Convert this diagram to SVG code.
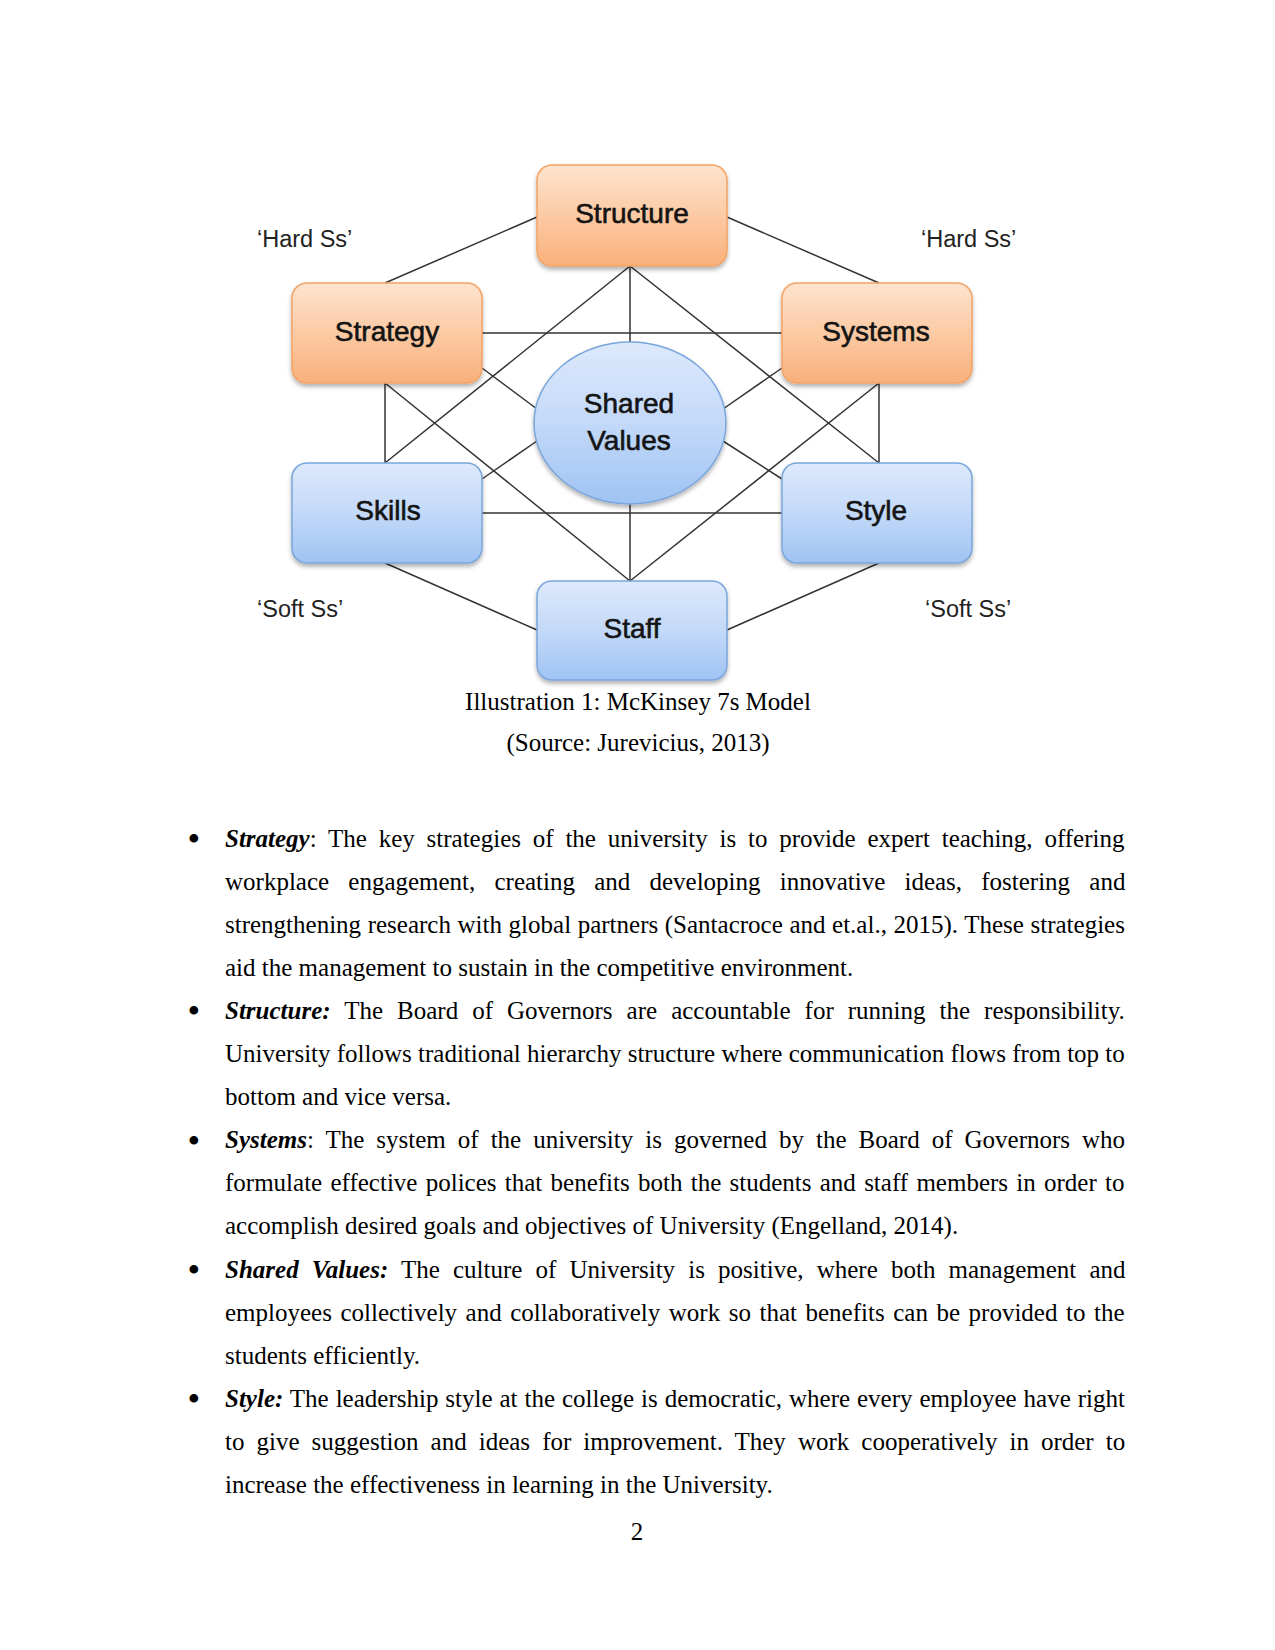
<svg xmlns="http://www.w3.org/2000/svg" width="1275" height="1650" viewBox="0 0 1275 1650">
<defs>
<linearGradient id="gOrange" x1="0" y1="0" x2="0" y2="1">
<stop offset="0" stop-color="#fde3cf"/>
<stop offset="0.5" stop-color="#fccaa4"/>
<stop offset="1" stop-color="#f9b07b"/>
</linearGradient>
<linearGradient id="gBlue" x1="0" y1="0" x2="0" y2="1">
<stop offset="0" stop-color="#dde9fc"/>
<stop offset="0.5" stop-color="#c3d9f8"/>
<stop offset="1" stop-color="#9fc3f3"/>
</linearGradient>
<filter id="shadow" x="-10%" y="-10%" width="120%" height="130%">
<feDropShadow dx="0" dy="3" stdDeviation="2" flood-color="#000" flood-opacity="0.3"/>
</filter>
</defs>
<style>
.conn line { stroke: #333; stroke-width: 1.5; }
.hard { fill: url(#gOrange); stroke: #f4a366; stroke-width: 1.5; filter: url(#shadow); }
.soft { fill: url(#gBlue); stroke: #7aa6dc; stroke-width: 1.5; filter: url(#shadow); }
.lbl { font-family: "Liberation Sans", Arial, sans-serif; font-size: 28px; fill: #141414; stroke: #141414; stroke-width: 0.6; text-anchor: middle; }
.side { font-family: "Liberation Sans", Arial, sans-serif; font-size: 23.5px; fill: #222; }
.body { font-family: "Liberation Serif", "Times New Roman", serif; font-size: 25px; fill: #000; }
.bi { font-weight: bold; font-style: italic; }
.bul { font-family: "Liberation Serif", "Times New Roman", serif; font-size: 32px; font-weight: bold; font-style: italic; fill: #000; }
.cap { font-family: "Liberation Serif", "Times New Roman", serif; font-size: 25px; fill: #000; text-anchor: middle; }
</style>
<rect width="1275" height="1650" fill="#fff"/>

<g id="connectors" class="conn">
<line x1="385" y1="283" x2="537" y2="217"/>
<line x1="727" y1="217" x2="879" y2="283"/>
<line x1="385" y1="563" x2="537" y2="630"/>
<line x1="727" y1="630" x2="879" y2="563"/>
<line x1="385" y1="383" x2="385" y2="463"/>
<line x1="879" y1="383" x2="879" y2="463"/>
<line x1="482" y1="333" x2="782" y2="333"/>
<line x1="482" y1="513" x2="782" y2="513"/>
<line x1="630" y1="266" x2="630" y2="342"/>
<line x1="630" y1="504" x2="630" y2="581"/>
<line x1="630" y1="266" x2="385" y2="463"/>
<line x1="630" y1="266" x2="879" y2="463"/>
<line x1="385" y1="383" x2="630" y2="581"/>
<line x1="879" y1="383" x2="630" y2="581"/>
<line x1="482" y1="368" x2="537" y2="409"/>
<line x1="537" y1="441" x2="482" y2="479"/>
<line x1="723" y1="409" x2="782" y2="368"/>
<line x1="723" y1="441" x2="782" y2="479"/>
</g>

<g id="structure">
<rect class="hard" x="537" y="165" width="190" height="101" rx="15"/>
<text class="lbl" x="632" y="223">Structure</text>
</g>
<g id="strategy">
<rect class="hard" x="292" y="283" width="190" height="100" rx="15"/>
<text class="lbl" x="387" y="341">Strategy</text>
</g>
<g id="systems">
<rect class="hard" x="782" y="283" width="190" height="100" rx="15"/>
<text class="lbl" x="876" y="341">Systems</text>
</g>
<g id="shared-values">
<ellipse class="soft" cx="630" cy="423" rx="96" ry="81"/>
<text class="lbl" x="629" y="413">Shared</text>
<text class="lbl" x="629" y="450">Values</text>
</g>
<g id="skills">
<rect class="soft" x="292" y="463" width="190" height="100" rx="15"/>
<text class="lbl" x="388" y="520">Skills</text>
</g>
<g id="style">
<rect class="soft" x="782" y="463" width="190" height="100" rx="15"/>
<text class="lbl" x="876" y="520">Style</text>
</g>
<g id="staff">
<rect class="soft" x="537" y="581" width="190" height="99" rx="15"/>
<text class="lbl" x="632" y="638">Staff</text>
</g>

<g id="side-labels">
<text class="side" x="257" y="247">‘Hard Ss’</text>
<text class="side" x="921" y="247">‘Hard Ss’</text>
<text class="side" x="257" y="617">‘Soft Ss’</text>
<text class="side" x="925" y="617">‘Soft Ss’</text>
</g>

<g id="caption">
<text class="cap" x="638" y="710">Illustration 1: McKinsey 7s Model</text>
<text class="cap" x="638" y="751">(Source: Jurevicius, 2013)</text>
</g>

<g id="body">
<text class="bul" x="188" y="849">•</text>
<text class="body" x="225" y="846.5" word-spacing="5.55"><tspan class="bi">Strategy</tspan>: The key strategies of the university is to provide expert teaching, offering</text>
<text class="body" x="225" y="889.6" word-spacing="12.93">workplace engagement, creating and developing innovative ideas, fostering and</text>
<text class="body" x="225" y="932.7" word-spacing="0.35">strengthening research with global partners (Santacroce and et.al., 2015). These strategies</text>
<text class="body" x="225" y="975.8">aid the management to sustain in the competitive environment.</text>

<text class="bul" x="188" y="1021.4">•</text>
<text class="body" x="225" y="1018.9" word-spacing="7.78"><tspan class="bi">Structure:</tspan> The Board of Governors are accountable for running the responsibility.</text>
<text class="body" x="225" y="1062">University follows traditional hierarchy structure where communication flows from top to</text>
<text class="body" x="225" y="1105.1">bottom and vice versa.</text>

<text class="bul" x="188" y="1150.7">•</text>
<text class="body" x="225" y="1148.2" word-spacing="5.77"><tspan class="bi">Systems</tspan>: The system of the university is governed by the Board of Governors who</text>
<text class="body" x="225" y="1191.3" word-spacing="2.03">formulate effective polices that benefits both the students and staff members in order to</text>
<text class="body" x="225" y="1234.4">accomplish desired goals and objectives of University (Engelland, 2014).</text>

<text class="bul" x="188" y="1280">•</text>
<text class="body" x="225" y="1277.5" word-spacing="6.92"><tspan class="bi">Shared Values:</tspan> The culture of University is positive, where both management and</text>
<text class="body" x="225" y="1320.6" word-spacing="2.3">employees collectively and collaboratively work so that benefits can be provided to the</text>
<text class="body" x="225" y="1363.7">students efficiently.</text>

<text class="bul" x="188" y="1409.3">•</text>
<text class="body" x="225" y="1406.8" word-spacing="0.7"><tspan class="bi">Style:</tspan> The leadership style at the college is democratic, where every employee have right</text>
<text class="body" x="225" y="1449.9" word-spacing="5.8">to give suggestion and ideas for improvement. They work cooperatively in order to</text>
<text class="body" x="225" y="1493">increase the effectiveness in learning in the University.</text>

<text class="cap" x="637" y="1540">2</text>
</g>
</svg>
